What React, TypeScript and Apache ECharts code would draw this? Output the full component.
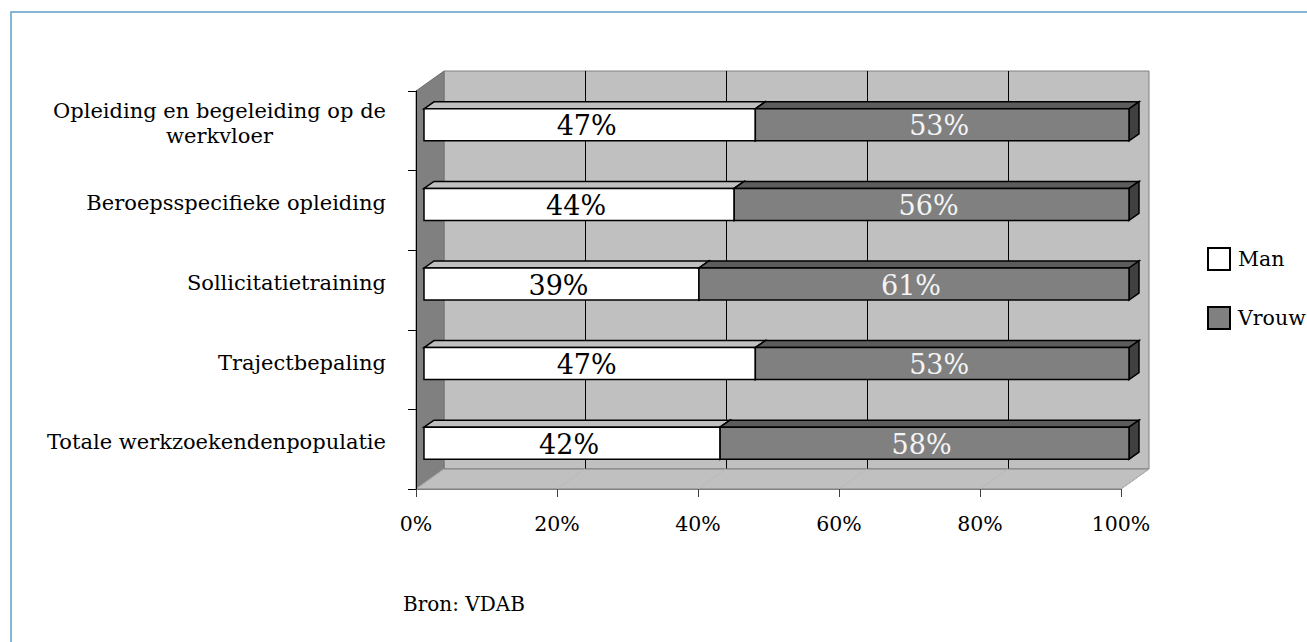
import React, { useEffect, useRef } from 'react';
import * as echarts from 'echarts';

const categories = [
  'Opleiding en begeleiding op de\nwerkvloer',
  'Beroepsspecifieke opleiding',
  'Sollicitatietraining',
  'Trajectbepaling',
  'Totale werkzoekendenpopulatie',
];
const manValues = [47, 44, 39, 47, 42];
const vrouwValues = [53, 56, 61, 53, 58];
const seriesNames = ['Man', 'Vrouw'];
const axisMin = 0;
const axisMax = 100;
const axisStep = 20;
const sourceNote = 'Bron: VDAB';

const FONT = "'DejaVu Serif', serif";
const FL = 416; // front plane left
const FT = 91; // front plane top
const PW = 705;
const PH = 398;
const DX = 28;
const DY = -20;
const BOX = 8;
const BOY = -6;
const BDX = 10;
const BDY = -7;
const BH = 32;

function makeRender(fill: string, top: string, side: string, labelColor: string) {
  return (params: any, api: any) => {
    const cat = api.value(0);
    const start = api.value(1);
    const end = api.value(2);
    const val = api.value(3);
    const a = api.coord([start, cat]);
    const b = api.coord([end, cat]);
    const x0 = a[0] + BOX;
    const x1 = b[0] + BOX;
    const yc = a[1] + BOY;
    const y0 = yc - BH / 2;
    const y1 = yc + BH / 2;
    return {
      type: 'group',
      children: [
        {
          type: 'polygon',
          shape: { points: [[x0, y0], [x0 + BDX, y0 + BDY], [x1 + BDX, y0 + BDY], [x1, y0]] },
          style: { fill: top, stroke: '#000', lineWidth: 1.5 },
        },
        {
          type: 'polygon',
          shape: { points: [[x1, y0], [x1 + BDX, y0 + BDY], [x1 + BDX, y1 + BDY], [x1, y1]] },
          style: { fill: side, stroke: '#000', lineWidth: 1.5 },
        },
        {
          type: 'rect',
          shape: { x: x0, y: y0, width: x1 - x0, height: BH },
          style: { fill, stroke: '#000', lineWidth: 1.5 },
        },
        {
          type: 'text',
          x: (x0 + x1) / 2 - 3,
          y: yc + 1,
          style: {
            text: `${val}%`,
            fill: labelColor,
            font: `27px ${FONT}`,
            align: 'center',
            verticalAlign: 'middle',
          },
        },
      ],
    };
  };
}

export default function App() {
  const ref = useRef<HTMLDivElement>(null);
  useEffect(() => {
    if (!ref.current) return;
    const chart = echarts.init(ref.current, undefined, { renderer: 'svg' });
    const manData = manValues.map((v, i) => [i, 0, v, v]);
    const vrouwData = vrouwValues.map((v, i) => [i, manValues[i], manValues[i] + v, v]);

    const floorLines: any[] = [];
    for (let v = axisMin; v <= axisMax; v += axisStep) {
      const x = FL + (PW * (v - axisMin)) / (axisMax - axisMin);
      floorLines.push({
        type: 'line',
        z: 1,
        shape: { x1: x, y1: FT + PH, x2: x + DX, y2: FT + PH + DY },
        style: { stroke: '#b9b9b9', lineWidth: 1 },
      });
    }

    chart.setOption({
      animation: false,
      backgroundColor: '#fff',
      grid: [
        { left: FL, top: FT, width: PW, height: PH, show: false },
        {
          left: FL + DX,
          top: FT + DY,
          width: PW,
          height: PH,
          show: true,
          backgroundColor: '#c0c0c0',
          borderColor: '#808080',
          borderWidth: 1,
        },
      ],
      xAxis: [
        {
          gridIndex: 0,
          type: 'value',
          min: axisMin,
          max: axisMax,
          interval: axisStep,
          z: 5,
          axisLine: { show: true, lineStyle: { color: '#808080', width: 1 } },
          axisTick: { show: true, length: 8, lineStyle: { color: '#404040' } },
          splitLine: { show: false },
          axisLabel: {
            formatter: '{value}%',
            margin: 24,
            fontSize: 20.5,
            fontFamily: FONT,
            color: '#000',
          },
        },
        {
          gridIndex: 1,
          type: 'value',
          min: axisMin,
          max: axisMax,
          interval: axisStep,
          axisLine: { show: false },
          axisTick: { show: false },
          axisLabel: { show: false },
          splitLine: {
            show: true,
            showMinLine: false,
            showMaxLine: false,
            lineStyle: { color: '#000', width: 1 },
          },
        },
      ],
      yAxis: [
        {
          gridIndex: 0,
          type: 'category',
          data: categories,
          inverse: true,
          z: 5,
          axisLine: { show: true, lineStyle: { color: '#000', width: 1 } },
          axisTick: { show: true, length: 8, lineStyle: { color: '#000' } },
          splitLine: { show: false },
          axisLabel: {
            margin: 30,
            fontSize: 21,
            fontFamily: FONT,
            color: '#000',
            lineHeight: 25,
            padding: [0, 0, 14, 0],
            formatter: (v: string) =>
              v.indexOf('\n') >= 0
                ? v
                    .split('\n')
                    .map((l) => `{c|${l}}`)
                    .join('\n')
                : v,
            rich: {
              c: { align: 'center', fontSize: 21, fontFamily: FONT, color: '#000', lineHeight: 25 },
            },
          },
        },
        { gridIndex: 1, type: 'value', show: false },
      ],
      legend: {
        orient: 'vertical',
        left: 1202,
        top: 242,
        itemWidth: 22,
        itemHeight: 22,
        itemGap: 35,
        icon: 'rect',
        textStyle: { fontSize: 20.5, fontFamily: FONT, color: '#000', padding: [0, 0, 0, 3] },
        data: [
          { name: seriesNames[0], itemStyle: { color: '#fff', borderColor: '#000', borderWidth: 2 } },
          { name: seriesNames[1], itemStyle: { color: '#808080', borderColor: '#000', borderWidth: 2 } },
        ],
      },
      graphic: [
        {
          type: 'rect',
          z: 0,
          shape: { x: 11, y: 12, width: 1320, height: 660 },
          style: { fill: 'none', stroke: '#5f9ec9', lineWidth: 1.5 },
        },
        {
          type: 'polygon',
          z: 1,
          shape: { points: [[FL, FT], [FL + DX, FT + DY], [FL + DX, FT + PH + DY], [FL, FT + PH]] },
          style: { fill: '#808080', stroke: '#707070', lineWidth: 1 },
        },
        {
          type: 'polygon',
          z: 1,
          shape: {
            points: [
              [FL, FT + PH],
              [FL + DX, FT + PH + DY],
              [FL + PW + DX, FT + PH + DY],
              [FL + PW, FT + PH],
            ],
          },
          style: { fill: '#c0c0c0', stroke: '#808080', lineWidth: 1 },
        },
        ...floorLines,
        {
          type: 'text',
          left: 403,
          top: 594,
          style: { text: sourceNote, font: `20px ${FONT}`, fill: '#000' },
        },
      ],
      series: [
        {
          name: seriesNames[0],
          type: 'custom',
          xAxisIndex: 0,
          yAxisIndex: 0,
          clip: false,
          z: 3,
          itemStyle: { color: '#fff', borderColor: '#000' },
          encode: { x: [1, 2], y: 0 },
          data: manData,
          renderItem: makeRender('#ffffff', '#c0c0c0', '#a0a0a0', '#000'),
        },
        {
          name: seriesNames[1],
          type: 'custom',
          xAxisIndex: 0,
          yAxisIndex: 0,
          clip: false,
          z: 4,
          itemStyle: { color: '#808080', borderColor: '#000' },
          encode: { x: [1, 2], y: 0 },
          data: vrouwData,
          renderItem: makeRender('#808080', '#5c5c5c', '#404040', '#f4f4f4'),
        },
      ],
    });
    return () => chart.dispose();
  }, []);
  return (
    <div
      ref={ref}
      style={{ position: 'fixed', left: 0, top: 0, width: 1307, height: 642 }}
    />
  );
}
